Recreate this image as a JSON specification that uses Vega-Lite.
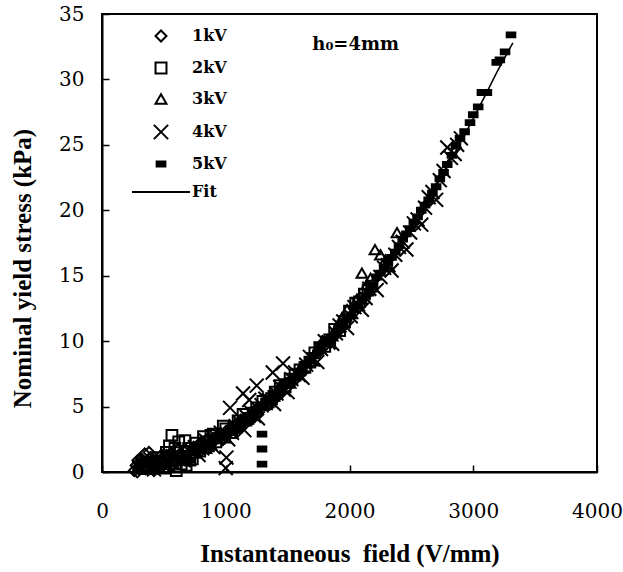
{
  "$schema": "https://vega.github.io/schema/vega-lite/v6.json",
  "width": 495,
  "height": 458,
  "autosize": {"type": "none"},
  "padding": {"left": 102, "top": 14, "right": 26, "bottom": 100},
  "background": "white",
  "config": {
    "view": {"stroke": "black", "strokeWidth": 2},
    "axis": {
      "grid": false,
      "domainColor": "black",
      "domainWidth": 2,
      "tickColor": "black",
      "tickWidth": 1.5,
      "tickSize": -7,
      "labelFont": "DejaVu Serif",
      "labelFontSize": 20,
      "labelColor": "black",
      "labelFlush": false,
      "labelOverlap": false,
      "titleFont": "Liberation Serif",
      "titleFontWeight": "bold",
      "titleFontSize": 25,
      "titleColor": "black"
    },
    "legend": {
      "labelFont": "DejaVu Serif",
      "labelFontWeight": "bold",
      "labelFontSize": 16,
      "labelColor": "black",
      "symbolStrokeColor": "black",
      "symbolStrokeWidth": 2,
      "symbolSize": 120,
      "padding": 0
    }
  },
  "datasets": {
    "pts": [
      {"series": "1kV", "field": 260, "stress": 0.1},
      {"series": "1kV", "field": 275, "stress": 0.5},
      {"series": "1kV", "field": 285, "stress": 0.0},
      {"series": "1kV", "field": 290, "stress": 0.9},
      {"series": "1kV", "field": 300, "stress": 0.2},
      {"series": "1kV", "field": 310, "stress": 0.6},
      {"series": "1kV", "field": 320, "stress": 1.0},
      {"series": "1kV", "field": 330, "stress": 0.8},
      {"series": "1kV", "field": 335, "stress": 0.3},
      {"series": "1kV", "field": 345, "stress": 1.4},
      {"series": "1kV", "field": 360, "stress": 0.7},
      {"series": "1kV", "field": 375, "stress": 0.2},
      {"series": "1kV", "field": 380, "stress": 1.5},
      {"series": "1kV", "field": 390, "stress": 1.1},
      {"series": "1kV", "field": 410, "stress": 0.5},
      {"series": "1kV", "field": 420, "stress": 0.1},
      {"series": "1kV", "field": 430, "stress": 0.9},
      {"series": "1kV", "field": 450, "stress": 0.3},
      {"series": "1kV", "field": 470, "stress": 1.2},
      {"series": "1kV", "field": 480, "stress": 0.6},
      {"series": "1kV", "field": 500, "stress": 0.7},
      {"series": "1kV", "field": 530, "stress": 1.0},
      {"series": "1kV", "field": 550, "stress": 0.4},
      {"series": "1kV", "field": 560, "stress": 1.5},
      {"series": "1kV", "field": 590, "stress": 0.9},
      {"series": "1kV", "field": 620, "stress": 1.3},
      {"series": "1kV", "field": 640, "stress": 0.9},
      {"series": "1kV", "field": 660, "stress": 1.6},
      {"series": "1kV", "field": 700, "stress": 1.4},
      {"series": "1kV", "field": 720, "stress": 1.2},
      {"series": "1kV", "field": 740, "stress": 1.9},
      {"series": "1kV", "field": 780, "stress": 2.1},
      {"series": "1kV", "field": 800, "stress": 1.6},
      {"series": "1kV", "field": 820, "stress": 2.0},
      {"series": "1kV", "field": 860, "stress": 2.6},
      {"series": "1kV", "field": 880, "stress": 2.1},
      {"series": "1kV", "field": 900, "stress": 2.5},
      {"series": "1kV", "field": 950, "stress": 2.9},
      {"series": "1kV", "field": 980, "stress": 2.5},
      {"series": "1kV", "field": 1000, "stress": 3.1},
      {"series": "1kV", "field": 1080, "stress": 3.6},
      {"series": "1kV", "field": 1120, "stress": 3.4},
      {"series": "1kV", "field": 1150, "stress": 4.0},
      {"series": "1kV", "field": 1230, "stress": 4.6},
      {"series": "1kV", "field": 1260, "stress": 4.4},
      {"series": "1kV", "field": 1300, "stress": 5.1},
      {"series": "1kV", "field": 1380, "stress": 5.7},
      {"series": "1kV", "field": 1420, "stress": 5.8},
      {"series": "1kV", "field": 1450, "stress": 6.3},
      {"series": "2kV", "field": 420, "stress": 0.3},
      {"series": "2kV", "field": 440, "stress": 1.1},
      {"series": "2kV", "field": 470, "stress": 0.8},
      {"series": "2kV", "field": 500, "stress": 0.3},
      {"series": "2kV", "field": 520, "stress": 1.5},
      {"series": "2kV", "field": 545, "stress": 2.0},
      {"series": "2kV", "field": 565, "stress": 2.8},
      {"series": "2kV", "field": 590, "stress": 1.8},
      {"series": "2kV", "field": 600, "stress": 0.1},
      {"series": "2kV", "field": 620, "stress": 2.3},
      {"series": "2kV", "field": 640, "stress": 0.6},
      {"series": "2kV", "field": 650, "stress": 1.2},
      {"series": "2kV", "field": 670, "stress": 2.4},
      {"series": "2kV", "field": 680, "stress": 0.5},
      {"series": "2kV", "field": 700, "stress": 1.8},
      {"series": "2kV", "field": 710, "stress": 0.9},
      {"series": "2kV", "field": 730, "stress": 1.0},
      {"series": "2kV", "field": 750, "stress": 1.5},
      {"series": "2kV", "field": 760, "stress": 2.2},
      {"series": "2kV", "field": 790, "stress": 1.6},
      {"series": "2kV", "field": 820, "stress": 2.7},
      {"series": "2kV", "field": 840, "stress": 2.3},
      {"series": "2kV", "field": 860, "stress": 2.0},
      {"series": "2kV", "field": 880, "stress": 2.8},
      {"series": "2kV", "field": 900, "stress": 2.9},
      {"series": "2kV", "field": 920, "stress": 2.3},
      {"series": "2kV", "field": 950, "stress": 2.6},
      {"series": "2kV", "field": 980, "stress": 3.5},
      {"series": "2kV", "field": 1000, "stress": 3.3},
      {"series": "2kV", "field": 1050, "stress": 3.0},
      {"series": "2kV", "field": 1070, "stress": 3.4},
      {"series": "2kV", "field": 1100, "stress": 3.9},
      {"series": "2kV", "field": 1140, "stress": 4.4},
      {"series": "2kV", "field": 1180, "stress": 4.1},
      {"series": "2kV", "field": 1220, "stress": 4.5},
      {"series": "2kV", "field": 1250, "stress": 4.9},
      {"series": "2kV", "field": 1300, "stress": 5.4},
      {"series": "2kV", "field": 1330, "stress": 5.2},
      {"series": "2kV", "field": 1370, "stress": 5.6},
      {"series": "2kV", "field": 1400, "stress": 6.1},
      {"series": "2kV", "field": 1440, "stress": 6.6},
      {"series": "2kV", "field": 1480, "stress": 6.5},
      {"series": "2kV", "field": 1520, "stress": 7.1},
      {"series": "2kV", "field": 1560, "stress": 7.4},
      {"series": "2kV", "field": 1600, "stress": 7.8},
      {"series": "2kV", "field": 1640, "stress": 8.0},
      {"series": "2kV", "field": 1680, "stress": 8.4},
      {"series": "2kV", "field": 1720, "stress": 9.1},
      {"series": "2kV", "field": 1760, "stress": 9.5},
      {"series": "2kV", "field": 1800, "stress": 9.6},
      {"series": "2kV", "field": 1840, "stress": 10.1},
      {"series": "2kV", "field": 1880, "stress": 10.9},
      {"series": "2kV", "field": 1920, "stress": 10.8},
      {"series": "2kV", "field": 1960, "stress": 11.5},
      {"series": "2kV", "field": 2000, "stress": 12.3},
      {"series": "2kV", "field": 2050, "stress": 12.9},
      {"series": "2kV", "field": 2080, "stress": 13.0},
      {"series": "2kV", "field": 2120, "stress": 13.6},
      {"series": "2kV", "field": 2150, "stress": 13.9},
      {"series": "2kV", "field": 2180, "stress": 14.2},
      {"series": "3kV", "field": 300, "stress": 0.6},
      {"series": "3kV", "field": 330, "stress": 0.9},
      {"series": "3kV", "field": 350, "stress": 0.2},
      {"series": "3kV", "field": 400, "stress": 0.9},
      {"series": "3kV", "field": 430, "stress": 0.5},
      {"series": "3kV", "field": 460, "stress": 0.4},
      {"series": "3kV", "field": 490, "stress": 1.3},
      {"series": "3kV", "field": 520, "stress": 1.1},
      {"series": "3kV", "field": 550, "stress": 0.8},
      {"series": "3kV", "field": 580, "stress": 0.6},
      {"series": "3kV", "field": 610, "stress": 1.8},
      {"series": "3kV", "field": 640, "stress": 1.5},
      {"series": "3kV", "field": 670, "stress": 0.9},
      {"series": "3kV", "field": 700, "stress": 1.1},
      {"series": "3kV", "field": 730, "stress": 1.7},
      {"series": "3kV", "field": 770, "stress": 2.0},
      {"series": "3kV", "field": 800, "stress": 2.3},
      {"series": "3kV", "field": 840, "stress": 1.8},
      {"series": "3kV", "field": 880, "stress": 2.1},
      {"series": "3kV", "field": 920, "stress": 2.7},
      {"series": "3kV", "field": 960, "stress": 3.0},
      {"series": "3kV", "field": 1000, "stress": 2.6},
      {"series": "3kV", "field": 1040, "stress": 3.2},
      {"series": "3kV", "field": 1080, "stress": 3.7},
      {"series": "3kV", "field": 1120, "stress": 4.0},
      {"series": "3kV", "field": 1160, "stress": 3.9},
      {"series": "3kV", "field": 1200, "stress": 4.3},
      {"series": "3kV", "field": 1250, "stress": 4.8},
      {"series": "3kV", "field": 1300, "stress": 5.1},
      {"series": "3kV", "field": 1340, "stress": 5.3},
      {"series": "3kV", "field": 1390, "stress": 5.8},
      {"series": "3kV", "field": 1430, "stress": 6.4},
      {"series": "3kV", "field": 1480, "stress": 6.8},
      {"series": "3kV", "field": 1520, "stress": 6.8},
      {"series": "3kV", "field": 1570, "stress": 7.5},
      {"series": "3kV", "field": 1610, "stress": 8.0},
      {"series": "3kV", "field": 1650, "stress": 8.4},
      {"series": "3kV", "field": 1700, "stress": 8.5},
      {"series": "3kV", "field": 1740, "stress": 9.4},
      {"series": "3kV", "field": 1780, "stress": 10.0},
      {"series": "3kV", "field": 1820, "stress": 10.1},
      {"series": "3kV", "field": 1860, "stress": 10.4},
      {"series": "3kV", "field": 1900, "stress": 11.1},
      {"series": "3kV", "field": 1940, "stress": 11.8},
      {"series": "3kV", "field": 1980, "stress": 12.4},
      {"series": "3kV", "field": 2020, "stress": 12.1},
      {"series": "3kV", "field": 2060, "stress": 13.2},
      {"series": "3kV", "field": 2100, "stress": 15.2},
      {"series": "3kV", "field": 2140, "stress": 14.3},
      {"series": "3kV", "field": 2170, "stress": 14.8},
      {"series": "3kV", "field": 2206, "stress": 17.0},
      {"series": "3kV", "field": 2250, "stress": 16.6},
      {"series": "3kV", "field": 2290, "stress": 16.2},
      {"series": "3kV", "field": 2320, "stress": 15.7},
      {"series": "3kV", "field": 2384, "stress": 18.3},
      {"series": "4kV", "field": 300, "stress": 0.3},
      {"series": "4kV", "field": 330, "stress": 0.6},
      {"series": "4kV", "field": 360, "stress": 0.8},
      {"series": "4kV", "field": 390, "stress": 0.4},
      {"series": "4kV", "field": 420, "stress": 0.2},
      {"series": "4kV", "field": 450, "stress": 0.9},
      {"series": "4kV", "field": 480, "stress": 1.0},
      {"series": "4kV", "field": 510, "stress": 0.7},
      {"series": "4kV", "field": 540, "stress": 0.5},
      {"series": "4kV", "field": 570, "stress": 1.2},
      {"series": "4kV", "field": 600, "stress": 1.4},
      {"series": "4kV", "field": 630, "stress": 1.0},
      {"series": "4kV", "field": 660, "stress": 0.9},
      {"series": "4kV", "field": 690, "stress": 1.3},
      {"series": "4kV", "field": 720, "stress": 1.7},
      {"series": "4kV", "field": 750, "stress": 1.9},
      {"series": "4kV", "field": 780, "stress": 1.3},
      {"series": "4kV", "field": 810, "stress": 1.8},
      {"series": "4kV", "field": 840, "stress": 2.4},
      {"series": "4kV", "field": 870, "stress": 2.2},
      {"series": "4kV", "field": 900, "stress": 1.9},
      {"series": "4kV", "field": 930, "stress": 2.6},
      {"series": "4kV", "field": 960, "stress": 3.0},
      {"series": "4kV", "field": 1000, "stress": 0.3},
      {"series": "4kV", "field": 1005, "stress": 1.1},
      {"series": "4kV", "field": 1020, "stress": 2.5},
      {"series": "4kV", "field": 1035, "stress": 4.9},
      {"series": "4kV", "field": 1050, "stress": 3.0},
      {"series": "4kV", "field": 1080, "stress": 3.5},
      {"series": "4kV", "field": 1110, "stress": 3.8},
      {"series": "4kV", "field": 1140, "stress": 6.0},
      {"series": "4kV", "field": 1150, "stress": 3.2},
      {"series": "4kV", "field": 1170, "stress": 4.2},
      {"series": "4kV", "field": 1190, "stress": 5.5},
      {"series": "4kV", "field": 1200, "stress": 4.6},
      {"series": "4kV", "field": 1230, "stress": 4.3},
      {"series": "4kV", "field": 1250, "stress": 6.6},
      {"series": "4kV", "field": 1260, "stress": 4.1},
      {"series": "4kV", "field": 1290, "stress": 5.1},
      {"series": "4kV", "field": 1320, "stress": 5.6},
      {"series": "4kV", "field": 1350, "stress": 5.5},
      {"series": "4kV", "field": 1380, "stress": 7.6},
      {"series": "4kV", "field": 1390, "stress": 5.2},
      {"series": "4kV", "field": 1410, "stress": 6.0},
      {"series": "4kV", "field": 1440, "stress": 6.5},
      {"series": "4kV", "field": 1463, "stress": 8.3},
      {"series": "4kV", "field": 1470, "stress": 6.3},
      {"series": "4kV", "field": 1500, "stress": 6.1},
      {"series": "4kV", "field": 1530, "stress": 7.1},
      {"series": "4kV", "field": 1560, "stress": 7.6},
      {"series": "4kV", "field": 1590, "stress": 7.4},
      {"series": "4kV", "field": 1620, "stress": 7.2},
      {"series": "4kV", "field": 1650, "stress": 8.2},
      {"series": "4kV", "field": 1680, "stress": 8.8},
      {"series": "4kV", "field": 1710, "stress": 8.6},
      {"series": "4kV", "field": 1740, "stress": 8.4},
      {"series": "4kV", "field": 1770, "stress": 9.4},
      {"series": "4kV", "field": 1800, "stress": 10.0},
      {"series": "4kV", "field": 1830, "stress": 9.9},
      {"series": "4kV", "field": 1860, "stress": 9.8},
      {"series": "4kV", "field": 1890, "stress": 10.6},
      {"series": "4kV", "field": 1920, "stress": 11.2},
      {"series": "4kV", "field": 1950, "stress": 11.5},
      {"series": "4kV", "field": 1980, "stress": 11.0},
      {"series": "4kV", "field": 2010, "stress": 11.9},
      {"series": "4kV", "field": 2040, "stress": 12.6},
      {"series": "4kV", "field": 2070, "stress": 12.8},
      {"series": "4kV", "field": 2100, "stress": 12.4},
      {"series": "4kV", "field": 2130, "stress": 13.3},
      {"series": "4kV", "field": 2160, "stress": 14.0},
      {"series": "4kV", "field": 2190, "stress": 14.2},
      {"series": "4kV", "field": 2220, "stress": 13.9},
      {"series": "4kV", "field": 2250, "stress": 14.9},
      {"series": "4kV", "field": 2280, "stress": 15.6},
      {"series": "4kV", "field": 2310, "stress": 15.8},
      {"series": "4kV", "field": 2340, "stress": 15.4},
      {"series": "4kV", "field": 2370, "stress": 16.6},
      {"series": "4kV", "field": 2400, "stress": 17.2},
      {"series": "4kV", "field": 2430, "stress": 17.6},
      {"series": "4kV", "field": 2460, "stress": 17.0},
      {"series": "4kV", "field": 2490, "stress": 18.3},
      {"series": "4kV", "field": 2520, "stress": 19.0},
      {"series": "4kV", "field": 2550, "stress": 19.3},
      {"series": "4kV", "field": 2580, "stress": 18.9},
      {"series": "4kV", "field": 2610, "stress": 20.2},
      {"series": "4kV", "field": 2640, "stress": 21.0},
      {"series": "4kV", "field": 2670, "stress": 21.4},
      {"series": "4kV", "field": 2700, "stress": 20.8},
      {"series": "4kV", "field": 2730, "stress": 22.3},
      {"series": "4kV", "field": 2760, "stress": 23.0},
      {"series": "4kV", "field": 2790, "stress": 24.8},
      {"series": "4kV", "field": 2820, "stress": 24.0},
      {"series": "4kV", "field": 2850, "stress": 24.3},
      {"series": "4kV", "field": 2870, "stress": 25.0},
      {"series": "4kV", "field": 2900, "stress": 25.5},
      {"series": "5kV", "field": 1000, "stress": 2.6},
      {"series": "5kV", "field": 1030, "stress": 3.1},
      {"series": "5kV", "field": 1050, "stress": 3.4},
      {"series": "5kV", "field": 1080, "stress": 3.2},
      {"series": "5kV", "field": 1100, "stress": 3.3},
      {"series": "5kV", "field": 1130, "stress": 3.8},
      {"series": "5kV", "field": 1150, "stress": 4.1},
      {"series": "5kV", "field": 1180, "stress": 4.3},
      {"series": "5kV", "field": 1200, "stress": 4.0},
      {"series": "5kV", "field": 1230, "stress": 4.4},
      {"series": "5kV", "field": 1250, "stress": 4.8},
      {"series": "5kV", "field": 1280, "stress": 5.1},
      {"series": "5kV", "field": 1293, "stress": 0.6},
      {"series": "5kV", "field": 1293, "stress": 1.76},
      {"series": "5kV", "field": 1293, "stress": 2.9},
      {"series": "5kV", "field": 1300, "stress": 5.0},
      {"series": "5kV", "field": 1330, "stress": 5.3},
      {"series": "5kV", "field": 1350, "stress": 5.6},
      {"series": "5kV", "field": 1380, "stress": 6.0},
      {"series": "5kV", "field": 1400, "stress": 5.8},
      {"series": "5kV", "field": 1430, "stress": 6.1},
      {"series": "5kV", "field": 1450, "stress": 6.4},
      {"series": "5kV", "field": 1480, "stress": 6.9},
      {"series": "5kV", "field": 1500, "stress": 6.7},
      {"series": "5kV", "field": 1530, "stress": 7.0},
      {"series": "5kV", "field": 1560, "stress": 7.3},
      {"series": "5kV", "field": 1590, "stress": 7.7},
      {"series": "5kV", "field": 1620, "stress": 7.9},
      {"series": "5kV", "field": 1650, "stress": 8.2},
      {"series": "5kV", "field": 1680, "stress": 8.5},
      {"series": "5kV", "field": 1710, "stress": 8.9},
      {"series": "5kV", "field": 1740, "stress": 9.1},
      {"series": "5kV", "field": 1770, "stress": 9.5},
      {"series": "5kV", "field": 1800, "stress": 9.8},
      {"series": "5kV", "field": 1830, "stress": 10.1},
      {"series": "5kV", "field": 1860, "stress": 10.3},
      {"series": "5kV", "field": 1890, "stress": 10.6},
      {"series": "5kV", "field": 1920, "stress": 11.1},
      {"series": "5kV", "field": 1950, "stress": 11.5},
      {"series": "5kV", "field": 1980, "stress": 11.7},
      {"series": "5kV", "field": 2010, "stress": 12.0},
      {"series": "5kV", "field": 2040, "stress": 12.4},
      {"series": "5kV", "field": 2070, "stress": 12.8},
      {"series": "5kV", "field": 2100, "stress": 13.1},
      {"series": "5kV", "field": 2130, "stress": 13.5},
      {"series": "5kV", "field": 2160, "stress": 13.8},
      {"series": "5kV", "field": 2190, "stress": 14.3},
      {"series": "5kV", "field": 2220, "stress": 14.9},
      {"series": "5kV", "field": 2250, "stress": 15.2},
      {"series": "5kV", "field": 2280, "stress": 15.6},
      {"series": "5kV", "field": 2310, "stress": 16.0},
      {"series": "5kV", "field": 2340, "stress": 16.4},
      {"series": "5kV", "field": 2370, "stress": 16.8},
      {"series": "5kV", "field": 2400, "stress": 17.3},
      {"series": "5kV", "field": 2430, "stress": 17.8},
      {"series": "5kV", "field": 2460, "stress": 18.2},
      {"series": "5kV", "field": 2490, "stress": 18.6},
      {"series": "5kV", "field": 2520, "stress": 19.1},
      {"series": "5kV", "field": 2550, "stress": 19.5},
      {"series": "5kV", "field": 2580, "stress": 20.0},
      {"series": "5kV", "field": 2610, "stress": 20.4},
      {"series": "5kV", "field": 2640, "stress": 20.8},
      {"series": "5kV", "field": 2670, "stress": 21.3},
      {"series": "5kV", "field": 2700, "stress": 21.8},
      {"series": "5kV", "field": 2730, "stress": 22.4},
      {"series": "5kV", "field": 2760, "stress": 22.9},
      {"series": "5kV", "field": 2790, "stress": 23.5},
      {"series": "5kV", "field": 2828, "stress": 24.2},
      {"series": "5kV", "field": 2860, "stress": 24.9},
      {"series": "5kV", "field": 2893, "stress": 25.5},
      {"series": "5kV", "field": 2930, "stress": 26.0},
      {"series": "5kV", "field": 2974, "stress": 26.7},
      {"series": "5kV", "field": 3000, "stress": 27.3},
      {"series": "5kV", "field": 3040, "stress": 27.9},
      {"series": "5kV", "field": 3070, "stress": 29.0},
      {"series": "5kV", "field": 3110, "stress": 29.0},
      {"series": "5kV", "field": 3190, "stress": 31.3},
      {"series": "5kV", "field": 3215, "stress": 31.5},
      {"series": "5kV", "field": 3257, "stress": 32.1},
      {"series": "5kV", "field": 3305, "stress": 33.4}
    ],
    "fit": [
      {"field": 250, "stress": 0.19},
      {"field": 300, "stress": 0.27},
      {"field": 400, "stress": 0.48},
      {"field": 500, "stress": 0.75},
      {"field": 600, "stress": 1.08},
      {"field": 700, "stress": 1.47},
      {"field": 800, "stress": 1.92},
      {"field": 900, "stress": 2.43},
      {"field": 1000, "stress": 3.0},
      {"field": 1100, "stress": 3.63},
      {"field": 1200, "stress": 4.32},
      {"field": 1300, "stress": 5.07},
      {"field": 1400, "stress": 5.88},
      {"field": 1500, "stress": 6.75},
      {"field": 1600, "stress": 7.68},
      {"field": 1700, "stress": 8.67},
      {"field": 1800, "stress": 9.72},
      {"field": 1900, "stress": 10.83},
      {"field": 2000, "stress": 12.0},
      {"field": 2100, "stress": 13.23},
      {"field": 2200, "stress": 14.52},
      {"field": 2300, "stress": 15.87},
      {"field": 2400, "stress": 17.28},
      {"field": 2500, "stress": 18.75},
      {"field": 2600, "stress": 20.28},
      {"field": 2700, "stress": 21.87},
      {"field": 2800, "stress": 23.52},
      {"field": 2900, "stress": 25.23},
      {"field": 3000, "stress": 27.0},
      {"field": 3100, "stress": 28.83},
      {"field": 3200, "stress": 30.72},
      {"field": 3320, "stress": 32.8}
    ],
    "note": [
      {"field": 2050, "stress": 32.6, "label": "h₀=4mm"}
    ]
  },
  "layer": [
    {
      "data": {"name": "fit"},
      "mark": {"type": "line", "color": "black", "strokeWidth": 1.6},
      "encoding": {
        "x": {
          "field": "field", "type": "quantitative",
          "scale": {"domain": [0, 4000], "nice": false},
          "axis": {
            "values": [0, 1000, 2000, 3000, 4000],
            "format": "d",
            "title": "Instantaneous\u00a0 field (V/mm)",
            "labelPadding": 36,
            "titleX": 247.5,
            "titleY": 89,
            "titleBaseline": "alphabetic",
            "titleAlign": "center",
            "titleAnchor": null
          }
        },
        "y": {
          "field": "stress", "type": "quantitative",
          "scale": {"domain": [0, 35], "nice": false},
          "axis": {
            "values": [0, 5, 10, 15, 20, 25, 30, 35],
            "format": "d",
            "title": "Nominal yield stress (kPa)",
            "labelPadding": 25,
            "titleX": -80,
            "titleY": 254,
            "titleBaseline": "middle",
            "titleAlign": "center",
            "titleAngle": -90
          }
        }
      }
    },
    {
      "data": {"name": "pts"},
      "mark": {"type": "point", "strokeWidth": 2, "opacity": 1, "size": 115},
      "encoding": {
        "x": {"field": "field", "type": "quantitative"},
        "y": {"field": "stress", "type": "quantitative"},
        "stroke": {
          "field": "series", "type": "nominal",
          "scale": {
            "domain": ["1kV", "2kV", "3kV", "4kV", "5kV", "Fit"],
            "range": ["black", "black", "black", "black", "black", "black"]
          },
          "legend": {
            "title": null,
            "orient": "none",
            "legendX": 51,
            "legendY": 14,
            "rowPadding": 12,
            "labelOffset": 23,
            "symbolStrokeWidth": 2
          }
        },
        "shape": {
          "field": "series", "type": "nominal",
          "scale": {
            "domain": ["1kV", "2kV", "3kV", "4kV", "5kV", "Fit"],
            "range": ["diamond", "square", "triangle-up", "M-1.3,-1.3L1.3,1.3M-1.3,1.3L1.3,-1.3", "M-0.8,-0.45L0.8,-0.45L0.8,0.45L-0.8,0.45Z", "M-5.3,0L5.3,0"]
          },
          "legend": {
            "title": null,
            "orient": "none",
            "legendX": 51,
            "legendY": 14,
            "rowPadding": 12,
            "labelOffset": 23,
            "symbolStrokeWidth": 2
          }
        },
        "fill": {
          "field": "series", "type": "nominal",
          "scale": {
            "domain": ["1kV", "2kV", "3kV", "4kV", "5kV", "Fit"],
            "range": ["transparent", "transparent", "transparent", "transparent", "black", "transparent"]
          },
          "legend": {
            "title": null,
            "orient": "none",
            "legendX": 51,
            "legendY": 14,
            "rowPadding": 12,
            "labelOffset": 23,
            "symbolStrokeWidth": 2
          }
        }
      }
    },
    {
      "data": {"name": "note"},
      "mark": {"type": "text", "font": "DejaVu Serif", "fontWeight": "bold", "fontSize": 18, "color": "black", "align": "center", "baseline": "middle"},
      "encoding": {
        "x": {"field": "field", "type": "quantitative"},
        "y": {"field": "stress", "type": "quantitative"},
        "text": {"field": "label"}
      }
    }
  ]
}
